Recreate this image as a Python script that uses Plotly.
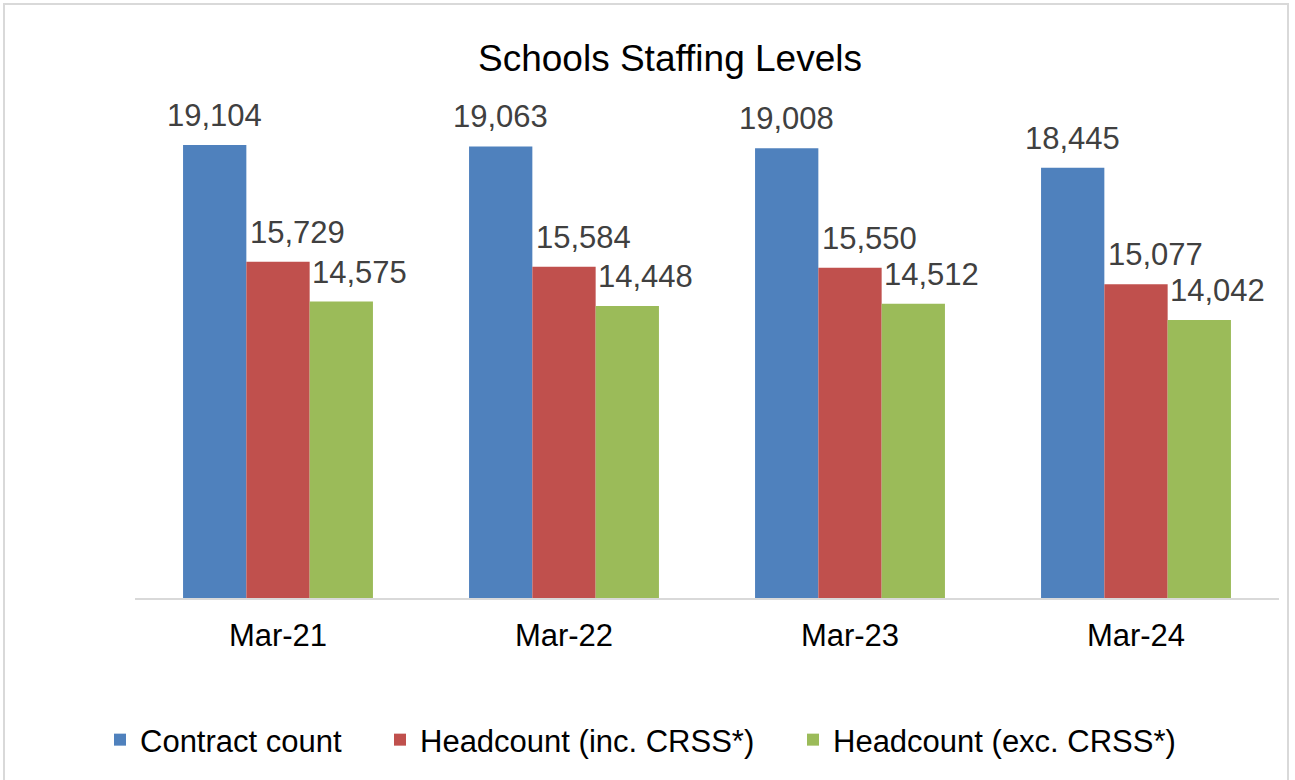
import plotly.graph_objects as go

categories = ["Mar-21", "Mar-22", "Mar-23", "Mar-24"]
contract_count = [19104, 19063, 19008, 18445]
headcount_inc = [15729, 15584, 15550, 15077]
headcount_exc = [14575, 14448, 14512, 14042]
series_names = ["Contract count", "Headcount (inc. CRSS*)", "Headcount (exc. CRSS*)"]
colors = ["#4F81BD", "#C0504D", "#9BBB59"]

W, H = 1295, 780
ML, MR, MT, MB = 135, 16, 114, 182
plot_w = W - ML - MR
plot_h = H - MT - MB
bargap = 0.336
bar_px = plot_w / len(categories) * (1 - bargap) / 3
label_extra_shift = [0, 19, 18]
FONT = "Liberation Sans, Arial, sans-serif"

series = [contract_count, headcount_inc, headcount_exc]
legend_ids = ["legend", "legend2", "legend3"]

fig = go.Figure()
for k, (name, vals, col) in enumerate(zip(series_names, series, colors)):
    fig.add_trace(go.Bar(
        x=categories, y=vals, name=name,
        marker=dict(color=col, line=dict(width=0)),
        legend=legend_ids[k],
        hoverinfo="skip",
    ))

annotations = []
for k, vals in enumerate(series):
    for c, v in zip(categories, vals):
        annotations.append(dict(
            x=c, y=v, xref="x", yref="y", text=f"{v:,}", showarrow=False,
            xshift=(k - 1) * bar_px + label_extra_shift[k], yanchor="bottom", yshift=10,
            font=dict(family=FONT, size=31, color="#404040"),
        ))


def px_to_paper_x(px):
    return (px - ML) / plot_w


def px_to_paper_y(py):
    return (H - MB - py) / plot_h


shapes = [dict(type="rect", xref="paper", yref="paper",
               x0=px_to_paper_x(4), x1=px_to_paper_x(1288),
               y0=px_to_paper_y(784), y1=px_to_paper_y(4),
               line=dict(color="#D9D9D9", width=2), fillcolor="rgba(0,0,0,0)", layer="below")]

legend_common = dict(orientation="h", yanchor="middle", xanchor="left",
                     font=dict(family=FONT, size=31, color="#000000"),
                     bgcolor="rgba(0,0,0,0)", itemclick=False, itemdoubleclick=False)
legend_px = [100, 380, 793]
legend_y = px_to_paper_y(740)

fig.update_layout(
    width=W, height=H,
    margin=dict(l=ML, r=MR, t=MT, b=MB, autoexpand=False),
    paper_bgcolor="white", plot_bgcolor="white",
    barmode="group", bargap=bargap, bargroupgap=0,
    title=dict(text="Schools Staffing Levels", x=670 / W, xanchor="center",
               y=1 - 58 / H, yanchor="middle", yref="container",
               font=dict(family=FONT, size=37, color="#000000")),
    xaxis=dict(showline=True, linecolor="#D9D9D9", linewidth=2, ticks="",
               tickfont=dict(family=FONT, size=31, color="#000000"),
               ticklabelstandoff=9, showgrid=False, zeroline=False, fixedrange=True),
    yaxis=dict(range=[6000, 20000], visible=False, showgrid=False, zeroline=False, fixedrange=True),
    annotations=annotations,
    shapes=shapes,
    legend=dict(x=px_to_paper_x(legend_px[0]), y=legend_y, **legend_common),
    legend2=dict(x=px_to_paper_x(legend_px[1]), y=legend_y, **legend_common),
    legend3=dict(x=px_to_paper_x(legend_px[2]), y=legend_y, **legend_common),
    showlegend=True,
)

fig.write_html("out.html", config={"displayModeBar": False})
